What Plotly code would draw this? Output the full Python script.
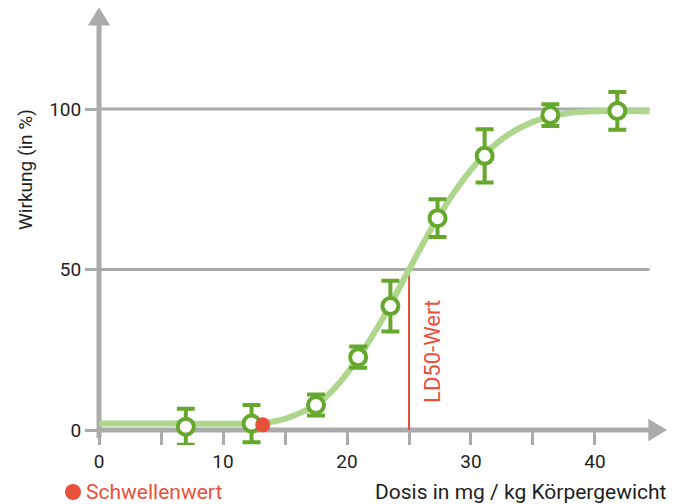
import plotly.graph_objects as go

# ---- data ----
dose = [7.0, 12.3, 17.5, 20.9, 23.5, 27.3, 31.1, 36.4, 41.8]
effect = [1.0, 2.0, 7.8, 22.7, 38.6, 66.0, 85.4, 98.1, 99.4]
effect_err = [5.6, 5.8, 3.3, 3.3, 7.9, 5.9, 8.3, 3.4, 5.9]

curve_x = [0, 6, 12, 13.5, 15, 16.5, 17.5, 19, 21, 23, 25, 27, 29, 31, 33, 35, 36.5, 38, 40, 44.4]
curve_y = [2.0, 2.0, 2.0, 2.3, 3.5, 5.8, 7.8, 13, 23, 35.5, 50, 64, 76, 85.5, 92, 96, 97.8, 98.8, 99.3, 99.3]

threshold_x = [13.2]
threshold_y = [1.6]

ld50_x = 25
ld50_y = 50

x_tickvals = [0, 5, 10, 15, 20, 25, 30, 35, 40]
x_ticktext = ["0", "", "10", "", "20", "", "30", "", "40"]
y_tickvals = [0, 50, 100]
grid_vals = [50, 100]

# ---- style ----
GRAY = "#ababab"
GREEN = "#66a82e"
LIGHT_GREEN = "#aed68c"
RED = "#e8503a"
TXT = "#1e1e1e"
FONT = "Roboto"

X0, X1 = -1.05, 46.05
Y0, Y1 = -4.67, 132.4
X_ARROW_TIP, Y_ARROW_TIP = 45.8, 131.7

fig = go.Figure()

fig.add_trace(go.Scatter(
    x=curve_x, y=curve_y, mode="lines",
    line=dict(color=LIGHT_GREEN, width=6, shape="spline", smoothing=0.8),
    hoverinfo="skip", showlegend=False))

fig.add_trace(go.Scatter(
    x=dose, y=effect, mode="markers",
    marker=dict(symbol="circle", size=16, color="white",
                line=dict(color=GREEN, width=4)),
    error_y=dict(type="data", array=effect_err, visible=True,
                 color=GREEN, thickness=4, width=9),
    showlegend=False))

fig.add_trace(go.Scatter(
    x=threshold_x, y=threshold_y, mode="markers",
    marker=dict(size=15, color=RED), showlegend=False))

shapes = []
for g in grid_vals:
    shapes.append(dict(type="line", x0=0, x1=44.4, y0=g, y1=g,
                       line=dict(color=GRAY, width=3), layer="below"))
# x axis line + arrow
shapes.append(dict(type="line", x0=0, x1=44.5, y0=0, y1=0,
                   line=dict(color=GRAY, width=5), layer="below"))
shapes.append(dict(type="path",
                   path=f"M {X_ARROW_TIP} 0 L 44.3 3.5 L 44.3 -3.5 Z",
                   fillcolor=GRAY, line=dict(width=0), layer="below"))
# y axis line + arrow
shapes.append(dict(type="line", x0=0, x1=0, y0=-2.5, y1=126.5,
                   line=dict(color=GRAY, width=5), layer="below"))
shapes.append(dict(type="path",
                   path=f"M 0 {Y_ARROW_TIP} L -0.9 126.0 L 0.9 126.0 Z",
                   fillcolor=GRAY, line=dict(width=0), layer="below"))
# LD50 line
shapes.append(dict(type="line", x0=ld50_x, x1=ld50_x, y0=0, y1=ld50_y,
                   line=dict(color=RED, width=2), layer="below"))
# legend dot
shapes.append(dict(type="circle", xref="paper", yref="paper",
                   xsizemode="pixel", ysizemode="pixel",
                   xanchor=(73 - 86) / 584, yanchor=(445 - 492) / 440,
                   x0=-8, x1=8, y0=-8, y1=8,
                   fillcolor=RED, line=dict(width=0)))

annotations = [
    dict(x=26.9, y=24.5, text="LD50-Wert", textangle=-90, showarrow=False,
         font=dict(color=RED, size=22, family=FONT), xref="x", yref="y"),
    dict(xref="paper", yref="paper", x=(84 - 86) / 584, y=(445 - 492) / 440,
         xanchor="left", yanchor="middle", text="Schwellenwert", showarrow=False,
         font=dict(color=RED, size=21, family=FONT)),
    dict(xref="paper", yref="paper", x=(669 - 86) / 584, y=(445 - 492) / 440,
         xanchor="right", yanchor="middle", text="Dosis in mg / kg Körpergewicht",
         showarrow=False, font=dict(color=TXT, size=21, family=FONT)),
    dict(xref="paper", yref="paper", x=(25 - 86) / 584, y=(445 - 170) / 440,
         xanchor="center", yanchor="middle", text="Wirkung (in %)", textangle=-90,
         showarrow=False, font=dict(color=TXT, size=19, family=FONT)),
]

fig.update_layout(
    width=673, height=504,
    margin=dict(l=86, r=3, t=5, b=59, autoexpand=False),
    paper_bgcolor="white", plot_bgcolor="white",
    font=dict(family=FONT, color=TXT, size=19),
    shapes=shapes, annotations=annotations,
    xaxis=dict(range=[X0, X1], showgrid=False, zeroline=False, showline=False,
               automargin=False,
               anchor="free", position=(0 - Y0) / (Y1 - Y0),
               tickmode="array", tickvals=x_tickvals, ticktext=x_ticktext,
               ticks="outside", ticklen=14, tickwidth=2.5, tickcolor=GRAY,
               tickfont=dict(size=19, color=TXT, family=FONT)),
    yaxis=dict(range=[Y0, Y1], showgrid=False, zeroline=False, showline=False,
               automargin=False,
               anchor="free", position=(0 - X0) / (X1 - X0),
               tickmode="array", tickvals=y_tickvals,
               ticks="outside", ticklen=14, tickwidth=2.5, tickcolor=GRAY,
               tickfont=dict(size=19, color=TXT, family=FONT)),
)

fig.write_html("out.html", config={"displayModeBar": False},
               post_script="document.body.style.margin='0';document.body.style.overflow='hidden';")
